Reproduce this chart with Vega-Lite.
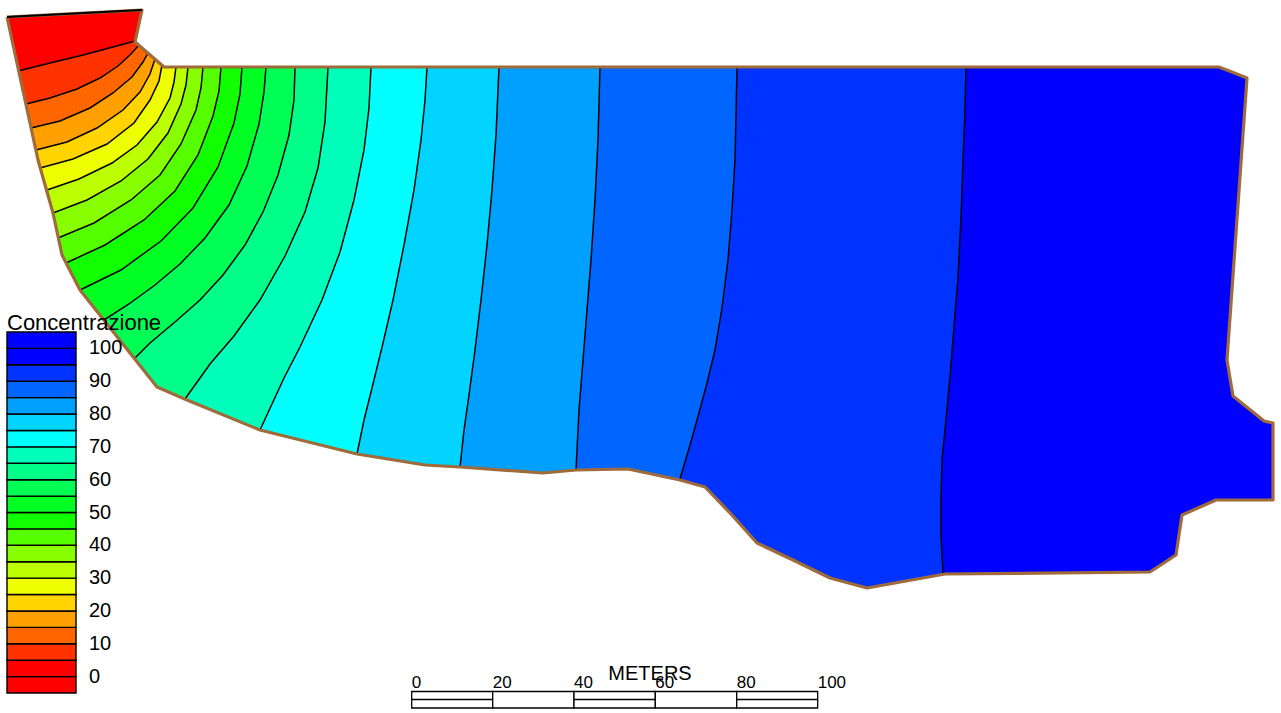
{
  "$schema": "https://vega.github.io/schema/vega-lite/v6.json",
  "width": 1281,
  "height": 713,
  "padding": 0,
  "autosize": {"type": "fit", "contains": "padding"},
  "background": "white",
  "config": {"view": {"stroke": null}},
  "datasets": {
    "contours": [
      {"c":0,"v":2.5,"i":1,"x":0,"y":0,"p":"ext"},{"c":0,"v":2.5,"i":2,"x":1281,"y":0,"p":"ext"},{"c":0,"v":2.5,"i":3,"x":1281,"y":713,"p":"ext"},{"c":0,"v":2.5,"i":4,"x":0,"y":713,"p":"ext"},
      {"c":0,"v":2.5,"i":1,"x":7,"y":17,"p":"zero"},{"c":0,"v":2.5,"i":2,"x":142,"y":10,"p":"zero"},

      {"c":1,"v":7.5,"i":1,"x":18,"y":71,"p":"line"},{"c":1,"v":7.5,"i":2,"x":50,"y":63,"p":"line"},{"c":1,"v":7.5,"i":3,"x":83,"y":55,"p":"line"},{"c":1,"v":7.5,"i":4,"x":113,"y":47,"p":"line"},{"c":1,"v":7.5,"i":5,"x":135,"y":41,"p":"line"},
      {"c":1,"v":7.5,"i":50,"x":160,"y":0,"p":"ext"},{"c":1,"v":7.5,"i":51,"x":1281,"y":0,"p":"ext"},{"c":1,"v":7.5,"i":52,"x":1281,"y":713,"p":"ext"},{"c":1,"v":7.5,"i":53,"x":0,"y":713,"p":"ext"},{"c":1,"v":7.5,"i":54,"x":0,"y":71,"p":"ext"},

      {"c":2,"v":12.5,"i":1,"x":26,"y":104,"p":"line"},{"c":2,"v":12.5,"i":2,"x":50,"y":98,"p":"line"},{"c":2,"v":12.5,"i":3,"x":77,"y":89,"p":"line"},{"c":2,"v":12.5,"i":4,"x":100,"y":78,"p":"line"},{"c":2,"v":12.5,"i":5,"x":118,"y":66,"p":"line"},{"c":2,"v":12.5,"i":6,"x":131,"y":54,"p":"line"},{"c":2,"v":12.5,"i":7,"x":139,"y":45,"p":"line"},
      {"c":2,"v":12.5,"i":50,"x":165,"y":0,"p":"ext"},{"c":2,"v":12.5,"i":51,"x":1281,"y":0,"p":"ext"},{"c":2,"v":12.5,"i":52,"x":1281,"y":713,"p":"ext"},{"c":2,"v":12.5,"i":53,"x":0,"y":713,"p":"ext"},{"c":2,"v":12.5,"i":54,"x":0,"y":104,"p":"ext"},

      {"c":3,"v":17.5,"i":1,"x":31,"y":128,"p":"line"},{"c":3,"v":17.5,"i":2,"x":60,"y":121,"p":"line"},{"c":3,"v":17.5,"i":3,"x":90,"y":108,"p":"line"},{"c":3,"v":17.5,"i":4,"x":113,"y":93,"p":"line"},{"c":3,"v":17.5,"i":5,"x":132,"y":77,"p":"line"},{"c":3,"v":17.5,"i":6,"x":143,"y":62,"p":"line"},{"c":3,"v":17.5,"i":7,"x":148,"y":53,"p":"line"},
      {"c":3,"v":17.5,"i":50,"x":175,"y":0,"p":"ext"},{"c":3,"v":17.5,"i":51,"x":1281,"y":0,"p":"ext"},{"c":3,"v":17.5,"i":52,"x":1281,"y":713,"p":"ext"},{"c":3,"v":17.5,"i":53,"x":0,"y":713,"p":"ext"},{"c":3,"v":17.5,"i":54,"x":0,"y":128,"p":"ext"},

      {"c":4,"v":22.5,"i":1,"x":36,"y":150,"p":"line"},{"c":4,"v":22.5,"i":2,"x":67,"y":142,"p":"line"},{"c":4,"v":22.5,"i":3,"x":97,"y":128,"p":"line"},{"c":4,"v":22.5,"i":4,"x":123,"y":110,"p":"line"},{"c":4,"v":22.5,"i":5,"x":140,"y":92,"p":"line"},{"c":4,"v":22.5,"i":6,"x":150,"y":74,"p":"line"},{"c":4,"v":22.5,"i":7,"x":155,"y":59,"p":"line"},
      {"c":4,"v":22.5,"i":50,"x":180,"y":0,"p":"ext"},{"c":4,"v":22.5,"i":51,"x":1281,"y":0,"p":"ext"},{"c":4,"v":22.5,"i":52,"x":1281,"y":713,"p":"ext"},{"c":4,"v":22.5,"i":53,"x":0,"y":713,"p":"ext"},{"c":4,"v":22.5,"i":54,"x":0,"y":150,"p":"ext"},

      {"c":5,"v":27.5,"i":1,"x":40,"y":168,"p":"line"},{"c":5,"v":27.5,"i":2,"x":73,"y":159,"p":"line"},{"c":5,"v":27.5,"i":3,"x":107,"y":144,"p":"line"},{"c":5,"v":27.5,"i":4,"x":134,"y":123,"p":"line"},{"c":5,"v":27.5,"i":5,"x":150,"y":100,"p":"line"},{"c":5,"v":27.5,"i":6,"x":159,"y":81,"p":"line"},{"c":5,"v":27.5,"i":7,"x":162,"y":65,"p":"line"},
      {"c":5,"v":27.5,"i":50,"x":185,"y":0,"p":"ext"},{"c":5,"v":27.5,"i":51,"x":1281,"y":0,"p":"ext"},{"c":5,"v":27.5,"i":52,"x":1281,"y":713,"p":"ext"},{"c":5,"v":27.5,"i":53,"x":0,"y":713,"p":"ext"},{"c":5,"v":27.5,"i":54,"x":0,"y":168,"p":"ext"},

      {"c":6,"v":32.5,"i":1,"x":47,"y":190,"p":"line"},{"c":6,"v":32.5,"i":2,"x":79,"y":179,"p":"line"},{"c":6,"v":32.5,"i":3,"x":112,"y":163,"p":"line"},{"c":6,"v":32.5,"i":4,"x":137,"y":145,"p":"line"},{"c":6,"v":32.5,"i":5,"x":157,"y":122,"p":"line"},{"c":6,"v":32.5,"i":6,"x":170,"y":98,"p":"line"},{"c":6,"v":32.5,"i":7,"x":174,"y":82,"p":"line"},{"c":6,"v":32.5,"i":8,"x":176,"y":67,"p":"line"},
      {"c":6,"v":32.5,"i":50,"x":176,"y":0,"p":"ext"},{"c":6,"v":32.5,"i":51,"x":1281,"y":0,"p":"ext"},{"c":6,"v":32.5,"i":52,"x":1281,"y":713,"p":"ext"},{"c":6,"v":32.5,"i":53,"x":0,"y":713,"p":"ext"},{"c":6,"v":32.5,"i":54,"x":0,"y":190,"p":"ext"},

      {"c":7,"v":37.5,"i":1,"x":53,"y":213,"p":"line"},{"c":7,"v":37.5,"i":2,"x":87,"y":200,"p":"line"},{"c":7,"v":37.5,"i":3,"x":121,"y":181,"p":"line"},{"c":7,"v":37.5,"i":4,"x":148,"y":159,"p":"line"},{"c":7,"v":37.5,"i":5,"x":168,"y":133,"p":"line"},{"c":7,"v":37.5,"i":6,"x":181,"y":104,"p":"line"},{"c":7,"v":37.5,"i":7,"x":186,"y":85,"p":"line"},{"c":7,"v":37.5,"i":8,"x":188,"y":67,"p":"line"},
      {"c":7,"v":37.5,"i":50,"x":188,"y":0,"p":"ext"},{"c":7,"v":37.5,"i":51,"x":1281,"y":0,"p":"ext"},{"c":7,"v":37.5,"i":52,"x":1281,"y":713,"p":"ext"},{"c":7,"v":37.5,"i":53,"x":0,"y":713,"p":"ext"},{"c":7,"v":37.5,"i":54,"x":0,"y":213,"p":"ext"},

      {"c":8,"v":42.5,"i":1,"x":58,"y":238,"p":"line"},{"c":8,"v":42.5,"i":2,"x":94,"y":223,"p":"line"},{"c":8,"v":42.5,"i":3,"x":131,"y":200,"p":"line"},{"c":8,"v":42.5,"i":4,"x":160,"y":175,"p":"line"},{"c":8,"v":42.5,"i":5,"x":181,"y":144,"p":"line"},{"c":8,"v":42.5,"i":6,"x":196,"y":110,"p":"line"},{"c":8,"v":42.5,"i":7,"x":201,"y":88,"p":"line"},{"c":8,"v":42.5,"i":8,"x":203,"y":67,"p":"line"},
      {"c":8,"v":42.5,"i":50,"x":203,"y":0,"p":"ext"},{"c":8,"v":42.5,"i":51,"x":1281,"y":0,"p":"ext"},{"c":8,"v":42.5,"i":52,"x":1281,"y":713,"p":"ext"},{"c":8,"v":42.5,"i":53,"x":0,"y":713,"p":"ext"},{"c":8,"v":42.5,"i":54,"x":0,"y":238,"p":"ext"},

      {"c":9,"v":47.5,"i":1,"x":66,"y":263,"p":"line"},{"c":9,"v":47.5,"i":2,"x":105,"y":245,"p":"line"},{"c":9,"v":47.5,"i":3,"x":144,"y":220,"p":"line"},{"c":9,"v":47.5,"i":4,"x":175,"y":191,"p":"line"},{"c":9,"v":47.5,"i":5,"x":198,"y":155,"p":"line"},{"c":9,"v":47.5,"i":6,"x":213,"y":116,"p":"line"},{"c":9,"v":47.5,"i":7,"x":219,"y":91,"p":"line"},{"c":9,"v":47.5,"i":8,"x":221,"y":67,"p":"line"},
      {"c":9,"v":47.5,"i":50,"x":221,"y":0,"p":"ext"},{"c":9,"v":47.5,"i":51,"x":1281,"y":0,"p":"ext"},{"c":9,"v":47.5,"i":52,"x":1281,"y":713,"p":"ext"},{"c":9,"v":47.5,"i":53,"x":0,"y":713,"p":"ext"},{"c":9,"v":47.5,"i":54,"x":0,"y":263,"p":"ext"},

      {"c":10,"v":52.5,"i":1,"x":80,"y":290,"p":"line"},{"c":10,"v":52.5,"i":2,"x":121,"y":270,"p":"line"},{"c":10,"v":52.5,"i":3,"x":161,"y":241,"p":"line"},{"c":10,"v":52.5,"i":4,"x":193,"y":208,"p":"line"},{"c":10,"v":52.5,"i":5,"x":218,"y":167,"p":"line"},{"c":10,"v":52.5,"i":6,"x":234,"y":123,"p":"line"},{"c":10,"v":52.5,"i":7,"x":240,"y":94,"p":"line"},{"c":10,"v":52.5,"i":8,"x":242,"y":67,"p":"line"},
      {"c":10,"v":52.5,"i":50,"x":242,"y":0,"p":"ext"},{"c":10,"v":52.5,"i":51,"x":1281,"y":0,"p":"ext"},{"c":10,"v":52.5,"i":52,"x":1281,"y":713,"p":"ext"},{"c":10,"v":52.5,"i":53,"x":0,"y":713,"p":"ext"},{"c":10,"v":52.5,"i":54,"x":0,"y":290,"p":"ext"},

      {"c":11,"v":57.5,"i":1,"x":104,"y":320,"p":"line"},{"c":11,"v":57.5,"i":2,"x":129,"y":304,"p":"line"},{"c":11,"v":57.5,"i":3,"x":155,"y":285,"p":"line"},{"c":11,"v":57.5,"i":4,"x":180,"y":264,"p":"line"},{"c":11,"v":57.5,"i":5,"x":205,"y":238,"p":"line"},{"c":11,"v":57.5,"i":6,"x":229,"y":205,"p":"line"},{"c":11,"v":57.5,"i":7,"x":247,"y":166,"p":"line"},{"c":11,"v":57.5,"i":8,"x":259,"y":124,"p":"line"},{"c":11,"v":57.5,"i":9,"x":264,"y":92,"p":"line"},{"c":11,"v":57.5,"i":10,"x":266,"y":67,"p":"line"},
      {"c":11,"v":57.5,"i":50,"x":266,"y":0,"p":"ext"},{"c":11,"v":57.5,"i":51,"x":1281,"y":0,"p":"ext"},{"c":11,"v":57.5,"i":52,"x":1281,"y":713,"p":"ext"},{"c":11,"v":57.5,"i":53,"x":104,"y":713,"p":"ext"},

      {"c":12,"v":62.5,"i":1,"x":135,"y":358,"p":"line"},{"c":12,"v":62.5,"i":2,"x":150,"y":343,"p":"line"},{"c":12,"v":62.5,"i":3,"x":175,"y":322,"p":"line"},{"c":12,"v":62.5,"i":4,"x":200,"y":300,"p":"line"},{"c":12,"v":62.5,"i":5,"x":223,"y":275,"p":"line"},{"c":12,"v":62.5,"i":6,"x":245,"y":245,"p":"line"},{"c":12,"v":62.5,"i":7,"x":263,"y":212,"p":"line"},{"c":12,"v":62.5,"i":8,"x":278,"y":175,"p":"line"},{"c":12,"v":62.5,"i":9,"x":289,"y":135,"p":"line"},{"c":12,"v":62.5,"i":10,"x":294,"y":100,"p":"line"},{"c":12,"v":62.5,"i":11,"x":295,"y":67,"p":"line"},
      {"c":12,"v":62.5,"i":50,"x":295,"y":0,"p":"ext"},{"c":12,"v":62.5,"i":51,"x":1281,"y":0,"p":"ext"},{"c":12,"v":62.5,"i":52,"x":1281,"y":713,"p":"ext"},{"c":12,"v":62.5,"i":53,"x":135,"y":713,"p":"ext"},

      {"c":13,"v":67.5,"i":1,"x":185,"y":399,"p":"line"},{"c":13,"v":67.5,"i":2,"x":210,"y":364,"p":"line"},{"c":13,"v":67.5,"i":3,"x":234,"y":336,"p":"line"},{"c":13,"v":67.5,"i":4,"x":260,"y":300,"p":"line"},{"c":13,"v":67.5,"i":5,"x":285,"y":256,"p":"line"},{"c":13,"v":67.5,"i":6,"x":305,"y":212,"p":"line"},{"c":13,"v":67.5,"i":7,"x":318,"y":168,"p":"line"},{"c":13,"v":67.5,"i":8,"x":325,"y":122,"p":"line"},{"c":13,"v":67.5,"i":9,"x":328,"y":67,"p":"line"},
      {"c":13,"v":67.5,"i":50,"x":328,"y":0,"p":"ext"},{"c":13,"v":67.5,"i":51,"x":1281,"y":0,"p":"ext"},{"c":13,"v":67.5,"i":52,"x":1281,"y":713,"p":"ext"},{"c":13,"v":67.5,"i":53,"x":185,"y":713,"p":"ext"},

      {"c":14,"v":72.5,"i":1,"x":260,"y":430,"p":"line"},{"c":14,"v":72.5,"i":2,"x":272,"y":404,"p":"line"},{"c":14,"v":72.5,"i":3,"x":284,"y":378,"p":"line"},{"c":14,"v":72.5,"i":4,"x":300,"y":347,"p":"line"},{"c":14,"v":72.5,"i":5,"x":322,"y":300,"p":"line"},{"c":14,"v":72.5,"i":6,"x":340,"y":252,"p":"line"},{"c":14,"v":72.5,"i":7,"x":354,"y":200,"p":"line"},{"c":14,"v":72.5,"i":8,"x":364,"y":150,"p":"line"},{"c":14,"v":72.5,"i":9,"x":369,"y":108,"p":"line"},{"c":14,"v":72.5,"i":10,"x":371,"y":67,"p":"line"},
      {"c":14,"v":72.5,"i":50,"x":371,"y":0,"p":"ext"},{"c":14,"v":72.5,"i":51,"x":1281,"y":0,"p":"ext"},{"c":14,"v":72.5,"i":52,"x":1281,"y":713,"p":"ext"},{"c":14,"v":72.5,"i":53,"x":260,"y":713,"p":"ext"},

      {"c":15,"v":77.5,"i":1,"x":357,"y":454,"p":"line"},{"c":15,"v":77.5,"i":2,"x":364,"y":420,"p":"line"},{"c":15,"v":77.5,"i":3,"x":372,"y":388,"p":"line"},{"c":15,"v":77.5,"i":4,"x":383,"y":343,"p":"line"},{"c":15,"v":77.5,"i":5,"x":393,"y":300,"p":"line"},{"c":15,"v":77.5,"i":6,"x":404,"y":245,"p":"line"},{"c":15,"v":77.5,"i":7,"x":414,"y":190,"p":"line"},{"c":15,"v":77.5,"i":8,"x":421,"y":140,"p":"line"},{"c":15,"v":77.5,"i":9,"x":425,"y":100,"p":"line"},{"c":15,"v":77.5,"i":10,"x":427,"y":67,"p":"line"},
      {"c":15,"v":77.5,"i":50,"x":427,"y":0,"p":"ext"},{"c":15,"v":77.5,"i":51,"x":1281,"y":0,"p":"ext"},{"c":15,"v":77.5,"i":52,"x":1281,"y":713,"p":"ext"},{"c":15,"v":77.5,"i":53,"x":357,"y":713,"p":"ext"},

      {"c":16,"v":82.5,"i":1,"x":460,"y":467,"p":"line"},{"c":16,"v":82.5,"i":2,"x":464,"y":430,"p":"line"},{"c":16,"v":82.5,"i":3,"x":469,"y":395,"p":"line"},{"c":16,"v":82.5,"i":4,"x":475,"y":350,"p":"line"},{"c":16,"v":82.5,"i":5,"x":481,"y":300,"p":"line"},{"c":16,"v":82.5,"i":6,"x":487,"y":245,"p":"line"},{"c":16,"v":82.5,"i":7,"x":492,"y":190,"p":"line"},{"c":16,"v":82.5,"i":8,"x":496,"y":135,"p":"line"},{"c":16,"v":82.5,"i":9,"x":499,"y":67,"p":"line"},
      {"c":16,"v":82.5,"i":50,"x":499,"y":0,"p":"ext"},{"c":16,"v":82.5,"i":51,"x":1281,"y":0,"p":"ext"},{"c":16,"v":82.5,"i":52,"x":1281,"y":713,"p":"ext"},{"c":16,"v":82.5,"i":53,"x":460,"y":713,"p":"ext"},

      {"c":17,"v":87.5,"i":1,"x":576,"y":470,"p":"line"},{"c":17,"v":87.5,"i":2,"x":579,"y":410,"p":"line"},{"c":17,"v":87.5,"i":3,"x":583,"y":360,"p":"line"},{"c":17,"v":87.5,"i":4,"x":587,"y":310,"p":"line"},{"c":17,"v":87.5,"i":5,"x":591,"y":260,"p":"line"},{"c":17,"v":87.5,"i":6,"x":595,"y":200,"p":"line"},{"c":17,"v":87.5,"i":7,"x":598,"y":140,"p":"line"},{"c":17,"v":87.5,"i":8,"x":600,"y":67,"p":"line"},
      {"c":17,"v":87.5,"i":50,"x":600,"y":0,"p":"ext"},{"c":17,"v":87.5,"i":51,"x":1281,"y":0,"p":"ext"},{"c":17,"v":87.5,"i":52,"x":1281,"y":713,"p":"ext"},{"c":17,"v":87.5,"i":53,"x":576,"y":713,"p":"ext"},

      {"c":18,"v":92.5,"i":1,"x":680,"y":479,"p":"line"},{"c":18,"v":92.5,"i":2,"x":690,"y":445,"p":"line"},{"c":18,"v":92.5,"i":3,"x":699,"y":413,"p":"line"},{"c":18,"v":92.5,"i":4,"x":707,"y":383,"p":"line"},{"c":18,"v":92.5,"i":5,"x":715,"y":350,"p":"line"},{"c":18,"v":92.5,"i":6,"x":722,"y":308,"p":"line"},{"c":18,"v":92.5,"i":7,"x":728,"y":260,"p":"line"},{"c":18,"v":92.5,"i":8,"x":732,"y":210,"p":"line"},{"c":18,"v":92.5,"i":9,"x":735,"y":160,"p":"line"},{"c":18,"v":92.5,"i":10,"x":736,"y":115,"p":"line"},{"c":18,"v":92.5,"i":11,"x":737,"y":67,"p":"line"},
      {"c":18,"v":92.5,"i":50,"x":737,"y":0,"p":"ext"},{"c":18,"v":92.5,"i":51,"x":1281,"y":0,"p":"ext"},{"c":18,"v":92.5,"i":52,"x":1281,"y":713,"p":"ext"},{"c":18,"v":92.5,"i":53,"x":680,"y":713,"p":"ext"},

      {"c":19,"v":97.5,"i":1,"x":943,"y":574,"p":"line"},{"c":19,"v":97.5,"i":2,"x":941,"y":535,"p":"line"},{"c":19,"v":97.5,"i":3,"x":941,"y":500,"p":"line"},{"c":19,"v":97.5,"i":4,"x":942,"y":460,"p":"line"},{"c":19,"v":97.5,"i":5,"x":946,"y":420,"p":"line"},{"c":19,"v":97.5,"i":6,"x":950,"y":377,"p":"line"},{"c":19,"v":97.5,"i":7,"x":954,"y":327,"p":"line"},{"c":19,"v":97.5,"i":8,"x":958,"y":277,"p":"line"},{"c":19,"v":97.5,"i":9,"x":961,"y":218,"p":"line"},{"c":19,"v":97.5,"i":10,"x":963,"y":160,"p":"line"},{"c":19,"v":97.5,"i":11,"x":965,"y":110,"p":"line"},{"c":19,"v":97.5,"i":12,"x":966,"y":67,"p":"line"},
      {"c":19,"v":97.5,"i":50,"x":966,"y":0,"p":"ext"},{"c":19,"v":97.5,"i":51,"x":1281,"y":0,"p":"ext"},{"c":19,"v":97.5,"i":52,"x":1281,"y":713,"p":"ext"},{"c":19,"v":97.5,"i":53,"x":943,"y":713,"p":"ext"}
    ],
    "outline": [
      {"i":104,"x":0,"y":0,"p":"frame"},{"i":103,"x":1281,"y":0,"p":"frame"},{"i":102,"x":1281,"y":713,"p":"frame"},{"i":101,"x":0,"y":713,"p":"frame"},{"i":100,"x":0,"y":0,"p":"frame"},
      {"i":1,"x":7,"y":17,"p":"edge"},{"i":2,"x":142,"y":10,"p":"edge"},{"i":3,"x":135,"y":42,"p":"edge"},{"i":4,"x":164,"y":67,"p":"edge"},{"i":5,"x":1219,"y":67,"p":"edge"},{"i":6,"x":1247,"y":78,"p":"edge"},{"i":7,"x":1227,"y":360,"p":"edge"},{"i":8,"x":1233,"y":396,"p":"edge"},{"i":9,"x":1264,"y":421,"p":"edge"},{"i":10,"x":1273,"y":423,"p":"edge"},{"i":11,"x":1273,"y":500,"p":"edge"},{"i":12,"x":1216,"y":500,"p":"edge"},{"i":13,"x":1182,"y":515,"p":"edge"},{"i":14,"x":1176,"y":555,"p":"edge"},{"i":15,"x":1150,"y":572,"p":"edge"},{"i":16,"x":945,"y":574,"p":"edge"},{"i":17,"x":867,"y":588,"p":"edge"},{"i":18,"x":830,"y":578,"p":"edge"},{"i":19,"x":793,"y":560,"p":"edge"},{"i":20,"x":757,"y":543,"p":"edge"},{"i":21,"x":730,"y":513,"p":"edge"},{"i":22,"x":705,"y":487,"p":"edge"},{"i":23,"x":680,"y":480,"p":"edge"},{"i":24,"x":628,"y":469,"p":"edge"},{"i":25,"x":576,"y":470,"p":"edge"},{"i":26,"x":543,"y":473,"p":"edge"},{"i":27,"x":460,"y":467,"p":"edge"},{"i":28,"x":425,"y":465,"p":"edge"},{"i":29,"x":357,"y":454,"p":"edge"},{"i":30,"x":260,"y":430,"p":"edge"},{"i":31,"x":187,"y":400,"p":"edge"},{"i":32,"x":157,"y":387,"p":"edge"},{"i":33,"x":80,"y":290,"p":"edge"},{"i":34,"x":62,"y":255,"p":"edge"},{"i":35,"x":53,"y":213,"p":"edge"},{"i":36,"x":38,"y":160,"p":"edge"},{"i":37,"x":7,"y":17,"p":"edge"}
    ],
    "scalebar": [
      {"x":411.7,"x2":492.7,"split":true},{"x":492.7,"x2":574,"split":false},{"x":574,"x2":655.3,"split":true},{"x":655.3,"x2":736.7,"split":false},{"x":736.7,"x2":817.7,"split":true}
    ],
    "scalelabels": [
      {"x":411.7,"t":"0"},{"x":492.7,"t":"20"},{"x":574,"t":"40"},{"x":655.3,"t":"60"},{"x":736.7,"t":"80"},{"x":817.7,"t":"100"}
    ]
  },
  "layer": [
    {
      "data": {"name": "contours"},
      "transform": [{"filter": "datum.p !== 'zero'"}],
      "mark": {"type": "line", "filled": true, "stroke": "transparent", "strokeWidth": 0, "interpolate": "linear"},
      "encoding": {
        "x": {"field": "x", "type": "quantitative", "scale": {"domain": [0, 1281], "nice": false, "zero": false}, "axis": null},
        "y": {"field": "y", "type": "quantitative", "scale": {"domain": [0, 713], "reverse": true, "nice": false, "zero": false}, "axis": null},
        "detail": {"field": "c", "type": "nominal"},
        "order": {"field": "i", "type": "quantitative"},
        "color": {
          "field": "v",
          "type": "quantitative",
          "scale": {
            "type": "threshold",
            "domain": [0,5,10,15,20,25,30,35,40,45,50,55,60,65,70,75,80,85,90,95,100],
            "range": ["#FF0000","#FF0000","#FF3300","#FF6600","#FFA000","#FFD400","#EEFF00","#BBFF00","#88FF00","#55FF00","#11FF00","#00FF22","#00FF55","#00FF88","#00FFBB","#00FFFF","#00D4FF","#00A0FF","#0066FF","#0033FF","#0000FF","#0000FF"]
          },
          "legend": {
            "type": "gradient",
            "orient": "none",
            "legendX": 7,
            "legendY": 313,
            "direction": "vertical",
            "padding": 0,
            "title": "Concentrazione",
            "titleFont": "Liberation Sans",
            "titleFontSize": 22,
            "titleFontWeight": "normal",
            "titleColor": "black",
            "titlePadding": -3,
            "titleLimit": 400,
            "gradientLength": 361,
            "gradientThickness": 69,
            "gradientStrokeColor": "black",
            "gradientStrokeWidth": 1.4,
            "labelFont": "Liberation Sans",
            "labelFontSize": 20,
            "labelColor": "black",
            "labelOffset": 13,
            "labelOverlap": false,
            "labelExpr": "datum.value % 10 === 0 ? datum.label : ''"
          }
        }
      }
    },
    {
      "data": {"name": "outline"},
      "mark": {"type": "line", "filled": true, "color": "white", "fill": "white", "stroke": "transparent", "strokeWidth": 0},
      "encoding": {
        "x": {"field": "x", "type": "quantitative"},
        "y": {"field": "y", "type": "quantitative"},
        "order": {"field": "i", "type": "quantitative", "sort": "descending"}
      }
    },
    {
      "data": {"name": "contours"},
      "transform": [{"filter": "datum.p === 'line'"}],
      "mark": {"type": "line", "color": "black", "strokeWidth": 1.5},
      "encoding": {
        "x": {"field": "x", "type": "quantitative"},
        "y": {"field": "y", "type": "quantitative"},
        "detail": {"field": "c", "type": "nominal"},
        "order": {"field": "i", "type": "quantitative"}
      }
    },
    {
      "data": {"name": "outline"},
      "transform": [{"filter": "datum.p === 'edge'"}],
      "mark": {"type": "line", "color": "#A06B3A", "strokeWidth": 3.2, "strokeJoin": "round"},
      "encoding": {
        "x": {"field": "x", "type": "quantitative"},
        "y": {"field": "y", "type": "quantitative"},
        "order": {"field": "i", "type": "quantitative"}
      }
    },
    {
      "data": {"name": "contours"},
      "transform": [{"filter": "datum.p === 'zero'"}],
      "mark": {"type": "line", "color": "black", "strokeWidth": 1.8},
      "encoding": {
        "x": {"field": "x", "type": "quantitative"},
        "y": {"field": "y", "type": "quantitative"},
        "order": {"field": "i", "type": "quantitative"}
      }
    },
    {
      "data": {"name": "scalebar"},
      "mark": {"type": "rect", "fill": "white", "stroke": "black", "strokeWidth": 1.3},
      "encoding": {
        "x": {"field": "x", "type": "quantitative"},
        "x2": {"field": "x2"},
        "y": {"datum": 691.5, "type": "quantitative"},
        "y2": {"datum": 708}
      }
    },
    {
      "data": {"name": "scalebar"},
      "transform": [{"filter": "datum.split"}],
      "mark": {"type": "rule", "color": "black", "strokeWidth": 1.3},
      "encoding": {
        "x": {"field": "x", "type": "quantitative"},
        "x2": {"field": "x2"},
        "y": {"datum": 699.5, "type": "quantitative"}
      }
    },
    {
      "data": {"name": "scalelabels"},
      "mark": {"type": "text", "align": "left", "baseline": "alphabetic", "font": "Liberation Sans", "fontSize": 17, "color": "black"},
      "encoding": {
        "x": {"field": "x", "type": "quantitative"},
        "y": {"datum": 688, "type": "quantitative"},
        "text": {"field": "t"}
      }
    },
    {
      "data": {"values": [{"x": 650, "t": "METERS"}]},
      "mark": {"type": "text", "align": "center", "baseline": "alphabetic", "font": "Liberation Sans", "fontSize": 20, "color": "black"},
      "encoding": {
        "x": {"field": "x", "type": "quantitative"},
        "y": {"datum": 680, "type": "quantitative"},
        "text": {"field": "t"}
      }
    }
  ]
}
